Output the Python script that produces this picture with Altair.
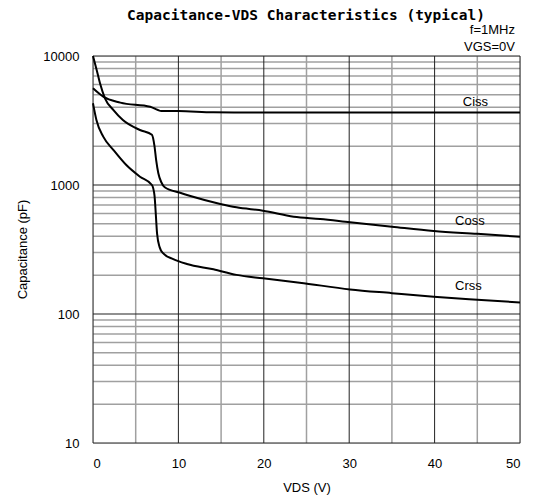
import altair as alt
import pandas as pd

# ---- data ----
ciss_v = [0, 1.2, 3.2, 6.7, 7.6, 8.0, 10, 14.1, 20, 30, 40, 50]
ciss_c = [5620, 4840, 4350, 4045, 3810, 3750, 3750, 3660, 3650, 3650, 3650, 3650]

coss_v = [0, 0.43, 0.82, 1.4, 2.4, 3.5, 5.5, 6.9, 7.2, 7.4, 7.65, 8.0, 8.4, 10.2,
          11.4, 14.9, 16.8, 19.9, 23.5, 26.6, 30.1, 35, 39.9, 45, 50]
coss_c = [10000, 7790, 6140, 4700, 3810, 3190, 2670, 2450, 2000, 1550, 1232, 1050, 960, 870,
          822, 713, 671, 632, 568, 545, 514, 475, 440, 418, 397]

crss_v = [0, 0.4, 1.2, 2.4, 3.9, 5.5, 6.9, 7.2, 7.35, 7.5, 7.8, 8.2, 9.4, 11.0,
          14.1, 16.8, 19.9, 24.2, 30.1, 35, 39.9, 45, 50]
crss_c = [4300, 3190, 2370, 1866, 1428, 1160, 1000, 830, 600, 422, 330, 296, 266, 244,
          222, 201, 189, 175, 155, 145, 136, 129, 123]

series_names = ["Ciss", "Coss", "Crss"]
label_x = [43.3, 42.4, 42.4]
label_y = [4400, 526, 165]

x_ticks = [0, 10, 20, 30, 40, 50]
y_ticks = [10, 100, 1000, 10000]
x_minor = [5, 15, 25, 35, 45]
y_minor = [m * d for d in [10, 100, 1000] for m in range(2, 10)]

title_text = "Capacitance-VDS Characteristics (typical)"
notes = ["f=1MHz", "VGS=0V"]

# ---- tables ----
rows = []
for name, vs, cs in [("Ciss", ciss_v, ciss_c), ("Coss", coss_v, coss_c), ("Crss", crss_v, crss_c)]:
    for v, c in zip(vs, cs):
        rows.append({"series": name, "VDS": v, "C": c})
curves = pd.DataFrame(rows)
labels = pd.DataFrame({"series": series_names, "VDS": label_x, "C": label_y})

xs = alt.Scale(domain=[0, 50], nice=False, zero=False)
ys = alt.Scale(type="log", domain=[10, 10000], nice=False)

FONT = "Liberation Sans"

x_axis = alt.Axis(values=x_ticks, grid=False, ticks=False, domain=False,
                  labelFont=FONT, labelFontSize=13, labelColor="black", labelPadding=14,
                  titleFont=FONT, titleFontSize=13, titleFontWeight="normal", titleColor="black",
                  titleY=44, titleBaseline="middle")
y_axis = alt.Axis(values=y_ticks, format="d", grid=False, ticks=False, domain=False,
                  labelFont=FONT, labelFontSize=13, labelColor="black", labelPadding=14,
                  titleFont=FONT, titleFontSize=13, titleFontWeight="normal", titleColor="black",
                  titleX=-71, titleY=193, titleAngle=-90, titleBaseline="middle", titleAlign="center")
XT = "VDS (V)"
YT = "Capacitance (pF)"

vminor = alt.Chart(pd.DataFrame({"v": x_minor})).mark_rule(color="#a0a0a0", strokeWidth=1.5).encode(
    x=alt.X("v:Q", scale=xs, axis=x_axis, title=XT))
vmajor = alt.Chart(pd.DataFrame({"v": x_ticks})).mark_rule(color="#222222", strokeWidth=1).encode(
    x=alt.X("v:Q", scale=xs, axis=x_axis, title=XT))
hminor = alt.Chart(pd.DataFrame({"c": y_minor})).mark_rule(color="#a0a0a0", strokeWidth=1.5).encode(
    y=alt.Y("c:Q", scale=ys, axis=y_axis, title=YT))
hmajor = alt.Chart(pd.DataFrame({"c": y_ticks})).mark_rule(color="#222222", strokeWidth=1.2).encode(
    y=alt.Y("c:Q", scale=ys, axis=y_axis, title=YT))

lines = alt.Chart(curves).mark_line(color="black", strokeWidth=2, interpolate="monotone").encode(
    x=alt.X("VDS:Q", scale=xs, axis=x_axis, title=XT),
    y=alt.Y("C:Q", scale=ys, axis=y_axis, title=YT),
    detail="series:N",
)

text = alt.Chart(labels).mark_text(align="left", baseline="middle", font=FONT, fontSize=13, color="black").encode(
    x=alt.X("VDS:Q", scale=xs, axis=x_axis, title=XT),
    y=alt.Y("C:Q", scale=ys, axis=y_axis, title=YT),
    text="series:N")

note_df = pd.DataFrame({"t": notes, "py": [-26, -9]})
note = alt.Chart(note_df).mark_text(align="right", baseline="middle", font=FONT, fontSize=13, color="black").encode(
    x=alt.value(422), y=alt.Y("py:Q", scale=None), text="t:N")

title_df = pd.DataFrame({"t": [title_text]})
title = alt.Chart(title_df).mark_text(align="center", baseline="middle", font="DejaVu Sans Mono",
                                      fontSize=14.5, fontWeight="bold", color="black").encode(
    x=alt.value(213), y=alt.value(-40), text="t:N")

chart = alt.layer(vminor, hminor, vmajor, hmajor, lines, text, note, title).properties(
    width=427, height=387,
    autosize=alt.AutoSizeParams(type="none"),
    padding={"left": 85, "top": 48, "right": 6, "bottom": 53},
).configure_view(stroke="black", strokeWidth=2).configure(background="white")

chart.save("out.html", embed_options={"renderer": "svg", "actions": False})
